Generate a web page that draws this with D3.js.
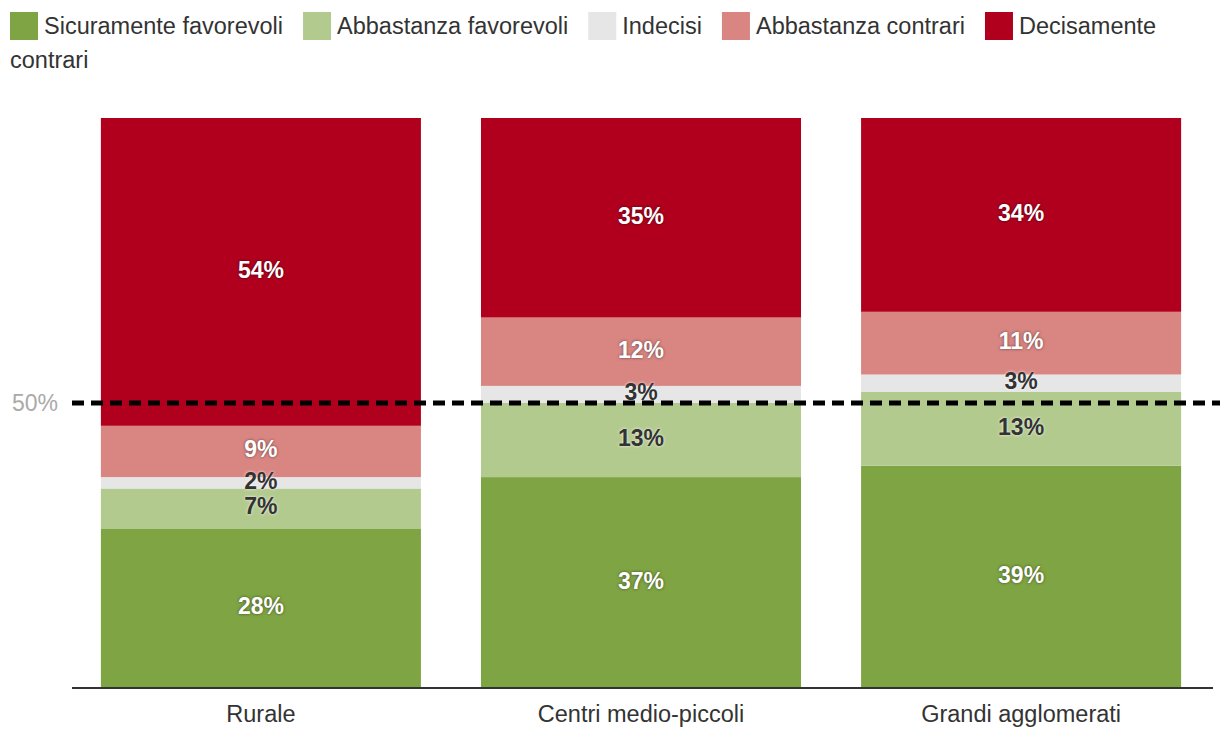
<!DOCTYPE html>
<html>
<head>
<meta charset="utf-8">
<script src="https://cdn.jsdelivr.net/npm/d3@7"></script>
<style>
  html, body { margin: 0; padding: 0; background: #fff; }
  svg { display: block; font-family: "Liberation Sans", Arial, sans-serif; }
  .lbl-light { fill: #fff; text-shadow: 0 0 3px rgba(0,0,0,0.55); }
  .lbl-dark { fill: #333; text-shadow: 0 0 3px rgba(255,255,255,0.9); }
</style>
</head>
<body>
<script>
// ---- data ----
const categories = ["Rurale", "Centri medio-piccoli", "Grandi agglomerati"];
const seriesNames = ["Sicuramente favorevoli", "Abbastanza favorevoli", "Indecisi", "Abbastanza contrari", "Decisamente contrari"];
const sicuramenteFavorevoli = [28, 37, 39];
const abbastanzaFavorevoli = [7, 13, 13];
const indecisi = [2, 3, 3];
const abbastanzaContrari = [9, 12, 11];
const decisamenteContrari = [54, 35, 34];
const seriesColors = ["#7fa443", "#b3ca8f", "#e6e6e6", "#d98682", "#b0001e"];
const darkLabelSeries = [false, true, true, false, false];
const referenceValue = 50;
const referenceLabel = "50%";

const seriesValues = [sicuramenteFavorevoli, abbastanzaFavorevoli, indecisi, abbastanzaContrari, decisamenteContrari];

const W = 1220, H = 744;
const svg = d3.select("body").append("svg").attr("width", W).attr("height", H);

const margin = {left: 72, right: 10, top: 118, bottom: 56};
const x = d3.scaleBand().domain(categories)
  .range([margin.left, 1210]).paddingInner(0.158).paddingOuter(0.076);
const y = d3.scaleLinear().domain([0, 100]).range([H - margin.bottom, margin.top]);

// stack
const table = categories.map((c, i) => {
  const row = {cat: c};
  seriesNames.forEach((s, j) => row[s] = seriesValues[j][i]);
  return row;
});
const stack = d3.stack().keys(seriesNames)(table);

const g = svg.append("g");
stack.forEach((layer, j) => {
  g.selectAll(null).data(layer).enter().append("rect")
    .attr("x", d => x(d.data.cat))
    .attr("width", x.bandwidth())
    .attr("y", d => y(d[1]))
    .attr("height", d => y(d[0]) - y(d[1]))
    .attr("fill", seriesColors[j]);
});

// labels
stack.forEach((layer, j) => {
  g.selectAll(null).data(layer).enter().append("text")
    .attr("class", darkLabelSeries[j] ? "lbl-dark" : "lbl-light")
    .attr("x", d => x(d.data.cat) + x.bandwidth() / 2)
    .attr("y", d => (y(d[0]) + y(d[1])) / 2 - 2)
    .attr("text-anchor", "middle")
    .attr("dominant-baseline", "central")
    .attr("font-size", 23)
    .attr("font-weight", "bold")
    .text(d => (d[1] - d[0]) + "%");
});

// x axis
const xAxis = d3.axisBottom(x).tickSize(0).tickPadding(17);
const ax = svg.append("g").attr("transform", `translate(0,${y(0)})`).call(xAxis);
ax.select(".domain").attr("d", `M${margin.left},0H1213`).attr("stroke", "#333").attr("stroke-width", 2);
ax.selectAll(".tick text").attr("font-size", 23.5).attr("fill", "#333")
  .attr("font-family", "Liberation Sans, Arial, sans-serif");

// reference line
svg.append("line")
  .attr("x1", margin.left).attr("x2", W)
  .attr("y1", y(referenceValue)).attr("y2", y(referenceValue))
  .attr("stroke", "#000").attr("stroke-width", 5)
  .attr("stroke-dasharray", "12,7");
svg.append("text")
  .attr("x", 58).attr("y", y(referenceValue))
  .attr("text-anchor", "end").attr("dominant-baseline", "central")
  .attr("font-size", 23).attr("fill", "#aaa")
  .text(referenceLabel);

// legend (flow layout with word wrap)
const leg = svg.append("g");
const sw = 28, gapT = 6, gapItem = 20, lineH = 34, maxX = W - 10;
let cx = 10, line = 0;
const lineY = l => 26 + l * lineH;
seriesNames.forEach((name, j) => {
  if (cx + sw + gapT + 20 > maxX) { cx = 10; line++; }
  leg.append("rect").attr("x", cx).attr("y", lineY(line) - 14)
    .attr("width", sw).attr("height", sw).attr("fill", seriesColors[j]);
  let tx = cx + sw + gapT;
  const t = leg.append("text").attr("font-size", 23.5).attr("fill", "#333")
    .attr("dominant-baseline", "central");
  const words = name.split(" ");
  let cur = [];
  let ts = t.append("tspan").attr("x", tx).attr("y", lineY(line));
  for (let k = 0; k < words.length; k++) {
    cur.push(words[k]);
    ts.text(cur.join(" "));
    if (tx + ts.node().getComputedTextLength() > maxX && cur.length > 1) {
      cur.pop();
      ts.text(cur.join(" "));
      line++;
      tx = 10;
      cur = [words[k]];
      ts = t.append("tspan").attr("x", tx).attr("y", lineY(line)).text(words[k]);
    }
  }
  cx = tx + ts.node().getComputedTextLength() + gapItem;
});
</script>
</body>
</html>
